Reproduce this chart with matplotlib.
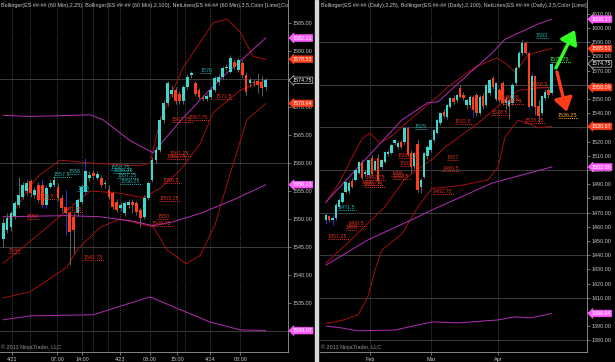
import matplotlib

matplotlib.use("Agg")
import matplotlib.pyplot as plt  # noqa: E402
import numpy as np  # noqa: E402

plt.rcParams["font.family"] = ["Liberation Sans", "DejaVu Sans"]

# ---------------- 60 min panel (left) ----------------
m_open = [1546.5, 1548.0, 1548.5, 1550.5, 1552.5, 1554.0, 1555.0, 1556.7, 1554.3, 1556.1,
          1556.1, 1552.5, 1555.8, 1556.1, 1555.8, 1553.7, 1552.2, 1551.0, 1550.4, 1551.0,
          1553.1, 1554.9, 1557.3, 1558.2, 1557.4, 1557.3, 1556.2, 1555.2, 1554.6, 1553.1,
          1551.9, 1551.0, 1552.5, 1553.1, 1552.8, 1551.6, 1550.4, 1553.7, 1557.0, 1560.5,
          1562.3, 1567.7, 1570.7, 1572.4, 1573.0, 1572.4, 1571.0, 1573.6, 1575.7, 1574.2,
          1573.0, 1571.8, 1571.5, 1571.8, 1573.0, 1574.5, 1575.4, 1577.0, 1576.3, 1578.1,
          1576.6, 1577.8, 1575.7, 1574.2, 1574.5, 1574.6, 1574.5, 1573.5]
m_high = [1550.1, 1551.0, 1551.5, 1553.3, 1557.5, 1556.6, 1557.0, 1557.2, 1555.8, 1556.6,
          1557.0, 1556.0, 1557.0, 1557.7, 1556.5, 1554.2, 1555.2, 1551.5, 1551.0, 1553.8,
          1556.2, 1560.9, 1558.6, 1558.7, 1558.5, 1557.8, 1556.9, 1556.0, 1555.0, 1553.5,
          1553.0, 1553.3, 1553.6, 1553.5, 1553.2, 1552.0, 1554.2, 1556.8, 1561.0, 1562.8,
          1568.2, 1571.2, 1574.7, 1574.0, 1573.5, 1572.9, 1574.0, 1575.9, 1576.4, 1574.6,
          1573.4, 1572.2, 1572.3, 1573.4, 1575.5, 1575.8, 1577.3, 1577.6, 1579.2, 1578.6,
          1578.8, 1578.3, 1576.2, 1575.3, 1575.0, 1576.0, 1575.5, 1575.2]
m_low = [1545.0, 1547.5, 1547.8, 1550.0, 1552.0, 1553.5, 1554.2, 1554.0, 1553.8, 1553.0,
         1552.0, 1552.0, 1555.5, 1555.8, 1553.2, 1551.5, 1547.1, 1541.8, 1544.0, 1550.5,
         1552.6, 1554.5, 1556.8, 1557.2, 1556.9, 1555.8, 1555.6, 1553.6, 1551.8, 1551.2,
         1551.5, 1550.6, 1552.0, 1551.0, 1550.8, 1548.6, 1550.0, 1553.4, 1556.6, 1560.0,
         1562.0, 1567.2, 1570.2, 1571.8, 1570.6, 1570.5, 1570.6, 1573.2, 1575.2, 1572.0,
         1571.4, 1571.1, 1571.0, 1571.4, 1572.6, 1574.0, 1575.0, 1576.6, 1576.0, 1576.8,
         1576.2, 1575.2, 1572.2, 1573.5, 1573.8, 1572.5, 1572.0, 1573.0]
m_close = [1549.2, 1550.1, 1551.0, 1552.8, 1554.3, 1556.1, 1556.4, 1554.6, 1555.2, 1553.4,
           1552.5, 1555.5, 1556.4, 1557.0, 1553.7, 1551.9, 1551.0, 1547.7, 1548.0, 1553.4,
           1555.8, 1558.5, 1557.9, 1557.6, 1558.0, 1556.1, 1556.4, 1554.0, 1552.2, 1551.6,
           1552.5, 1552.8, 1553.1, 1552.5, 1551.3, 1550.1, 1553.7, 1556.4, 1560.5, 1562.3,
           1567.7, 1570.7, 1574.2, 1573.0, 1571.0, 1571.0, 1573.6, 1575.4, 1576.0, 1572.4,
           1571.8, 1571.5, 1571.9, 1573.0, 1575.1, 1575.4, 1576.9, 1577.2, 1578.7, 1577.2,
           1578.4, 1575.7, 1572.7, 1574.8, 1574.2, 1574.0, 1573.3, 1574.75]
m_marked = [10, 11, 16, 21]  # bars NetLines paints blue

# Bollinger(2,25) - dark red
m_bb25_up_x = [0, 7.7, 9.4, 14.5, 22.2, 34.9, 37.5, 40.1, 45.9, 53.6, 57.1, 60.5, 63.8, 67]
m_bb25_up = [1548.5, 1556.6, 1557.9, 1560.5, 1560.0, 1559.5, 1560.0, 1567.7, 1577.0, 1585.0,
             1585.7, 1583.4, 1579.0, 1578.5]
m_bb25_mid_x = [0, 6.9, 14.5, 22.2, 29.8, 35.7, 40.1, 45.2, 50.3, 53.6, 60.5, 67]
m_bb25_mid = [1542.1, 1546.0, 1550.5, 1555.0, 1554.6, 1553.8, 1555.5, 1558.7, 1563.5, 1569.0,
              1573.0, 1574.8]
m_bb25_lo_x = [0, 6.9, 16.3, 18.9, 21.4, 24.7, 29.8, 38.3, 41.8, 46.7, 50.3, 54.1, 57.9, 62.2, 67]
m_bb25_lo = [1535.9, 1537.0, 1541.4, 1544.5, 1546.25, 1548.5, 1550.0, 1548.6, 1544.5, 1542.0,
             1543.5, 1549.0, 1558.0, 1567.7, 1570.6]
# Bollinger(2,100) - magenta
m_bb100_up_x = [0, 6.9, 22.2, 25.5, 32.4, 38.3, 45.2, 55.4, 67]
m_bb100_up = [1568.5, 1568.3, 1568.6, 1567.7, 1564.0, 1561.8, 1567.5, 1575.0, 1582.3]
m_bb100_mid_x = [0, 7.7, 16.3, 24.7, 33.2, 38.3, 43.4, 50.3, 58.7, 67]
m_bb100_mid = [1550.4, 1550.5, 1550.6, 1550.4, 1549.6, 1548.8, 1549.5, 1551.0, 1553.4, 1556.1]
m_bb100_lo_x = [0, 6.9, 23.0, 37.5, 45.2, 52.8, 60.5, 67]
m_bb100_lo = [1532.0, 1532.7, 1532.9, 1536.1, 1533.8, 1531.6, 1530.2, 1530.1]

m_tick_pos = [2.3, 13.8, 20.2, 29.8, 37.5, 44.4, 52.8, 60.5]
m_tick_lbl = ["4/21", "07:00", "14:00", "4/23", "08:00", "15:00", "4/24", "08:00"]
m_extra_vlines = [6.9, 23.0, 26.8, 46.4]

# NetLines levels: text, start bar, price, kind
m_levels = [
    ("1576", 50.3, 1576.0, "c"), ("1571.5", 54.1, 1571.5, "r"), ("1567.75", 47.2, 1567.75, "r"),
    ("1567.25", 43.1, 1567.25, "r"), ("1561.25", 42.6, 1561.25, "r"), ("1560.75", 41.8, 1560.75, "r"),
    ("1556.5", 40.8, 1556.5, "r"), ("1553.25", 39.8, 1553.25, "r"), ("1550", 39.3, 1550.0, "r"),
    ("1548.75", 38.0, 1548.75, "r"), ("1544", 1.3, 1544.0, "r"), ("1542.75", 20.4, 1542.75, "r"),
    ("1550", 6.1, 1550.0, "r"), ("1551.25", 15.1, 1551.25, "r"), ("1553.5", 8.9, 1553.5, "r"),
    ("1558.75", 27.3, 1558.75, "c"), ("1558.25", 28.1, 1558.25, "c"), ("1557.25", 29.1, 1557.25, "c"),
    ("1556.25", 29.9, 1556.25, "c"), ("1558", 16.6, 1558.0, "c"), ("1557.5", 12.8, 1557.5, "c"),
    ("1555", 18.9, 1555.0, "c"),
]
m_tags = [("1582.31", 1582.31, "p"), ("1578.53", 1578.53, "r"), ("1574.75", 1574.75, "k"),
          ("1570.64", 1570.64, "r"), ("1556.13", 1556.13, "p"), ("1530.07", 1530.07, "p")]

# ---------------- Daily panel (right) ----------------
d_open = [1465.0, 1467.5, 1465.0, 1466.0, 1474.0, 1477.5, 1484.5, 1485.0, 1492.0, 1493.0,
          1498.0, 1505.6, 1497.0, 1496.5, 1508.5, 1500.0, 1508.5, 1502.0, 1505.6, 1511.0,
          1512.0, 1519.0, 1516.0, 1519.7, 1519.7, 1529.6, 1512.0, 1503.0, 1518.0, 1488.0,
          1495.0, 1510.0, 1514.0, 1521.0, 1526.0, 1533.0, 1541.0, 1537.0, 1544.4, 1551.0,
          1549.3, 1557.7, 1553.0, 1546.0, 1546.0, 1551.4, 1552.8, 1540.0, 1552.0, 1545.5,
          1554.0, 1564.8, 1550.0, 1556.0, 1561.0, 1547.0, 1545.0, 1547.0, 1561.0, 1572.5,
          1582.4, 1589.4, 1582.4, 1545.0, 1566.0, 1545.0, 1540.0, 1551.0, 1556.0, 1554.0]
d_high = [1469.5, 1468.5, 1468.0, 1476.5, 1480.0, 1484.5, 1492.5, 1492.0, 1494.0, 1500.5,
          1506.5, 1507.5, 1500.0, 1508.0, 1510.5, 1507.0, 1511.0, 1508.0, 1513.5, 1514.0,
          1518.5, 1522.0, 1520.5, 1521.0, 1530.5, 1531.0, 1514.0, 1513.0, 1521.5, 1494.5,
          1513.0, 1517.5, 1522.0, 1529.0, 1536.0, 1541.0, 1543.0, 1546.5, 1551.5, 1553.0,
          1553.5, 1559.5, 1555.0, 1550.0, 1552.5, 1553.0, 1554.0, 1552.5, 1554.5, 1560.5,
          1564.0, 1566.0, 1562.0, 1557.5, 1563.0, 1552.0, 1550.0, 1561.0, 1573.0, 1583.5,
          1591.5, 1590.5, 1584.0, 1568.0, 1567.0, 1549.0, 1553.0, 1557.0, 1558.0, 1576.0]
d_low = [1462.0, 1463.5, 1461.5, 1465.0, 1472.5, 1476.5, 1483.5, 1483.0, 1487.0, 1492.0,
         1497.0, 1493.5, 1495.0, 1495.5, 1496.0, 1499.0, 1492.0, 1501.0, 1505.0, 1509.5,
         1511.0, 1517.5, 1514.5, 1515.0, 1518.5, 1509.5, 1498.0, 1501.0, 1484.5, 1483.5,
         1494.0, 1508.0, 1512.5, 1520.0, 1525.0, 1532.0, 1536.5, 1536.0, 1543.5, 1546.5,
         1548.0, 1550.5, 1549.0, 1543.0, 1544.5, 1537.0, 1538.0, 1538.5, 1543.0, 1545.0,
         1553.0, 1557.0, 1548.5, 1548.0, 1546.0, 1543.0, 1536.0, 1546.0, 1560.0, 1571.5,
         1581.0, 1581.5, 1543.0, 1544.0, 1539.0, 1534.0, 1539.0, 1549.0, 1551.0, 1553.0]
d_close = [1468.0, 1465.0, 1466.5, 1475.4, 1479.0, 1483.8, 1491.5, 1490.5, 1488.0, 1500.0,
           1505.6, 1494.5, 1498.5, 1507.0, 1497.0, 1506.0, 1493.0, 1507.0, 1512.7, 1513.0,
           1517.6, 1521.0, 1519.0, 1516.0, 1529.6, 1510.6, 1502.0, 1512.0, 1486.0, 1493.0,
           1512.0, 1516.0, 1521.0, 1528.0, 1535.0, 1540.0, 1538.0, 1545.8, 1550.7, 1548.0,
           1552.8, 1551.4, 1551.0, 1549.0, 1551.4, 1542.3, 1540.2, 1551.4, 1545.0, 1560.0,
           1563.4, 1558.5, 1561.0, 1549.0, 1547.0, 1550.0, 1549.0, 1560.0, 1572.0, 1582.4,
           1589.4, 1582.4, 1544.4, 1566.0, 1544.0, 1538.0, 1552.0, 1555.0, 1553.0, 1574.75]
d_marked = [0, 2, 4, 25, 45, 62, 63, 69]

d_bb25_up_x = [0, 4.3, 7.6, 11.0, 13.5, 16.5, 20.2, 24.5, 31.2, 37.3, 45.6, 52.3, 55.0, 57.8,
               61.8, 65.4, 69]
d_bb25_up = [1476.8, 1492.0, 1507.0, 1522.0, 1526.0, 1519.0, 1524.0, 1533.0, 1546.0, 1558.5,
             1572.5, 1578.9, 1575.0, 1569.0, 1581.0, 1583.5, 1585.5]
d_bb25_mid_x = [0, 7.6, 18.0, 24.2, 32.7, 36.4, 46.5, 53.2, 58.7, 63.9, 69]
d_bb25_mid = [1434.5, 1450.7, 1474.0, 1494.0, 1508.0, 1516.0, 1533.0, 1546.0, 1556.0, 1557.5,
              1558.1]
d_bb25_lo_x = [0, 4.9, 9.8, 12.8, 15.0, 17.1, 20.5, 23.2, 28.1, 32.4, 41.0, 49.5, 52.6, 54.7,
               58.7, 61.8, 64.8, 69]
d_bb25_lo = [1392.0, 1394.0, 1398.0, 1410.6, 1429.6, 1443.7, 1450.0, 1455.0, 1474.0, 1487.0,
             1489.0, 1493.0, 1502.0, 1523.0, 1535.0, 1533.0, 1529.6, 1530.7]
d_bb100_up_x = [0, 23.2, 31.2, 34.3, 40.4, 50.8, 54.7, 60.9, 64.8, 69]
d_bb100_up = [1477.5, 1535.2, 1547.5, 1548.0, 1561.0, 1582.4, 1592.0, 1598.6, 1602.8, 1606.2]
d_bb100_mid_x = [0, 12.8, 28.1, 32.4, 50.8, 69]
d_bb100_mid = [1433.0, 1450.7, 1467.0, 1471.8, 1490.8, 1502.1]
d_bb100_lo_x = [0, 4.9, 9.8, 21.1, 32.4, 40.4, 52.6, 57.8, 62.4, 69]
d_bb100_lo = [1390.1, 1388.7, 1386.7, 1387.3, 1393.0, 1392.3, 1394.4, 1396.5, 1395.8, 1398.9]

d_tick_pos = [13.5, 32.1, 52.6]
d_tick_lbl = ["Feb", "Mar", "Apr"]

d_levels = [
    ("1593", 64.2, 1593.0, "c"), ("1575.75", 68.5, 1575.75, "g"), ("1536.25", 70.9, 1536.25, "o"),
    ("1538.5", 50.5, 1538.5, "r"), ("1533.25", 60.6, 1533.25, "r"), ("1558.5", 62.7, 1558.5, "r"),
    ("1549.25", 53.2, 1549.25, "r"), ("1546.75", 54.1, 1546.75, "r"), ("1529", 27.2, 1529.0, "c"),
    ("1532.5", 39.4, 1532.5, "r"), ("1507", 37.0, 1507.0, "r"), ("1499.5", 35.5, 1499.5, "r"),
    ("1482.75", 32.7, 1482.75, "r"), ("1508.75", 22.0, 1508.75, "r"), ("1503", 22.6, 1503.0, "r"),
    ("1496", 19.9, 1496.0, "r"), ("1493.5", 20.5, 1493.5, "r"), ("1492.75", 12.0, 1492.75, "r"),
    ("1489.75", 11.0, 1489.75, "r"), ("1487.75", 11.6, 1487.75, "r"), ("1471.5", 3.7, 1471.5, "c"),
    ("1460.5", 6.7, 1460.5, "r"), ("1458", 6.1, 1458.0, "r"), ("1451.25", 0.6, 1451.25, "r"),
]
d_tags = [("1606.17", 1606.17, "p"), ("1585.51", 1585.51, "r"), ("1574.75", 1574.75, "k"),
          ("1558.09", 1558.09, "r"), ("1530.67", 1530.67, "r"), ("1502.06", 1502.06, "p"),
          ("1398.94", 1398.94, "p")]
# projection arrows (start bar, start price, end bar, end price)
d_up_arrow = (70.3, 1571.8, 76.1, 1598.6)
d_down_arrow = (70.6, 1569.0, 73.6, 1541.0)

UP = "#3fd6cc"
DOWN = "#ff3d1a"
WICK = "#6e6e6e"
MARK = "#2b3cff"
BB25 = "#a50f0f"
BB100 = "#b52db5"
LVL = {"r": "#e0301a", "c": "#1fb2b2", "g": "#33ff33", "o": "#ffa020"}
TAG = {"p": ("#ff5cff", "#ff5cff", "white"), "r": ("#ff3d1a", "#ff3d1a", "white"),
       "k": ("black", "#c8c8c8", "white")}
FS = 3.9


def candles(ax, o, h, l, c, marked, width, min_body):
    o, h, l, c = map(np.asarray, (o, h, l, c))
    x = np.arange(len(o))
    wick = np.array([MARK if i in marked else WICK for i in x])
    ax.vlines(x, l, h, colors=wick, lw=0.6, zorder=3)
    body = np.maximum(np.abs(c - o), min_body)
    cols = np.where(c >= o, UP, DOWN)
    ax.bar(x, body, width, np.minimum(o, c), color=cols, linewidth=0, zorder=4)


def style(ax, ylim, xlim, yticks, grid_y):
    ax.set_facecolor("black")
    ax.set_ylim(*ylim)
    ax.set_xlim(*xlim)
    for s in ("left", "top"):
        ax.spines[s].set_visible(False)
    for s in ("right", "bottom"):
        ax.spines[s].set_color("#9a9a9a")
        ax.spines[s].set_linewidth(0.6)
    ax.yaxis.tick_right()
    ax.set_yticks(yticks)
    ax.set_yticklabels([f"{v:.2f}" for v in yticks])
    ax.tick_params(axis="both", colors="#9a9a9a", labelcolor="#c8c8c8", labelsize=FS,
                   length=2, width=0.5, pad=1.5)
    for g in grid_y:
        ax.axhline(g, color="#3c3c3c", lw=0.7, zorder=1)


def levels(ax, items, per_char):
    for txt, x0, p, k in items:
        col = LVL[k]
        ax.hlines(p, x0, x0 + len(txt) * per_char, colors=col, linestyles=(0, (1, 1)),
                  lw=0.7, zorder=6)
        ax.text(x0, p, txt, color=col, fontsize=FS, va="bottom", ha="left", zorder=6)


def tags(ax, items):
    for txt, p, k in items:
        fc, ec, tc = TAG[k]
        ax.annotate(txt, xy=(1.0, p), xycoords=ax.get_yaxis_transform(), xytext=(3.2, 0),
                    textcoords="offset points", fontsize=FS, color=tc, va="center",
                    ha="left", zorder=10, annotation_clip=False,
                    bbox=dict(boxstyle="larrow,pad=0.15", fc=fc, ec=ec, lw=0.5))


fig = plt.figure(figsize=(6.15, 3.62), dpi=100, facecolor="black")
axl = fig.add_axes([0, 10 / 362, 288 / 615, 352 / 362])
axr = fig.add_axes([320 / 615, 10 / 362, 267 / 615, 352 / 362])

# left panel
style(axl, (1526.25, 1589.1), (-0.8, 72.7), list(range(1530, 1590, 5)), [1530, 1545, 1560, 1575])
for v in m_tick_pos + m_extra_vlines:
    axl.axvline(v, color="#5a5a5a", lw=0.6, ls=(0, (1, 1.5)), zorder=1)
axl.set_xticks(m_tick_pos)
axl.set_xticklabels(m_tick_lbl)
for xs, ys, col in [(m_bb25_up_x, m_bb25_up, BB25), (m_bb25_mid_x, m_bb25_mid, BB25),
                    (m_bb25_lo_x, m_bb25_lo, BB25), (m_bb100_up_x, m_bb100_up, BB100),
                    (m_bb100_mid_x, m_bb100_mid, BB100), (m_bb100_lo_x, m_bb100_lo, BB100)]:
    axl.plot(xs, ys, color=col, lw=0.7, zorder=2)
candles(axl, m_open, m_high, m_low, m_close, m_marked, 0.72, 0.15)
levels(axl, m_levels, 0.75)
tags(axl, m_tags)
axl.text(0.005, 0.992,
         "Bollinger(ES ##-## (60 Min),2,25), Bollinger(ES ##-## (60 Min),2,100), "
         "NetLines(ES ##-## (60 Min),3,5,Color [Lime],Color [DarkRed])",
         transform=axl.transAxes, fontsize=FS, color="#c8c8c8", va="top", ha="left", clip_on=True)
axl.text(0.005, 0.006, "\u00a9 2013 NinjaTrader, LLC", transform=axl.transAxes, fontsize=FS,
         color="#9a9a9a", va="bottom", ha="left")

# right panel
style(axr, (1371.8, 1619.7), (-1.83, 79.8), list(range(1380, 1620, 10)),
      list(range(1380, 1600, 30)))
for v in d_tick_pos:
    axr.axvline(v, color="#5a5a5a", lw=0.6, ls=(0, (1, 1.5)), zorder=1)
axr.set_xticks(d_tick_pos)
axr.set_xticklabels(d_tick_lbl)
for xs, ys, col in [(d_bb25_up_x, d_bb25_up, BB25), (d_bb25_mid_x, d_bb25_mid, BB25),
                    (d_bb25_lo_x, d_bb25_lo, BB25), (d_bb100_up_x, d_bb100_up, BB100),
                    (d_bb100_mid_x, d_bb100_mid, BB100), (d_bb100_lo_x, d_bb100_lo, BB100)]:
    axr.plot(xs, ys, color=col, lw=0.7, zorder=2)
candles(axr, d_open, d_high, d_low, d_close, d_marked, 0.72, 0.6)
levels(axr, d_levels, 0.9)
tags(axr, d_tags)
for (x0, y0, x1, y1), col in [(d_up_arrow, "#33ff22"), (d_down_arrow, "#ff3d1a")]:
    axr.annotate("", xy=(x1, y1), xytext=(x0, y0), zorder=8,
                 arrowprops=dict(arrowstyle="-|>,head_width=0.55,head_length=0.8", color=col,
                                 lw=2.4, shrinkA=0, shrinkB=0))
axr.text(0.005, 0.992,
         "Bollinger(ES ##-## (Daily),2,25), Bollinger(ES ##-## (Daily),2,100), "
         "NetLines(ES ##-## (Daily),3,5,Color [Lime],Color [DarkRed])",
         transform=axr.transAxes, fontsize=FS, color="#c8c8c8", va="top", ha="left", clip_on=True)
axr.text(0.005, 0.006, "\u00a9 2013 NinjaTrader, LLC", transform=axr.transAxes, fontsize=FS,
         color="#9a9a9a", va="bottom", ha="left")

# panel separator
fig.patches.append(plt.Rectangle((315 / 615, 0), 3 / 615, 1, transform=fig.transFigure,
                                 color="#d8d8d8", zorder=20))

fig.savefig("out.png", dpi=100, facecolor="black")
